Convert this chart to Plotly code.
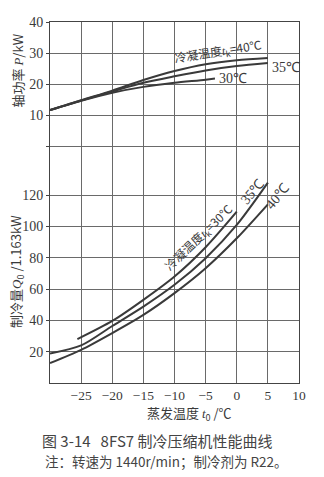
import plotly.graph_objects as go

# Evaporating temperature t0 (°C)
t0_full = [-30, -25, -20, -15, -10, -5, 0, 5]

# Shaft power P (kW) for condensing temperatures 40/35/30 °C
p_40 = [11.6, 14.8, 17.9, 21.3, 24.2, 26.4, 27.7, 28.4]
p_35 = [11.6, 14.7, 17.6, 20.4, 22.5, 24.4, 25.8, 26.8]
t0_p30 = [-30, -25, -20, -15, -10, -5, -3.5]
p_30 = [11.6, 14.6, 17.2, 19.1, 20.4, 21.4, 21.8]

# Cooling capacity Q0 (x1.163 kW)
t0_q30 = [-25.6, -20, -15, -10, -5, 0]
q_30 = [28.0, 39.6, 53.1, 68.0, 86.7, 109.4]
q_35 = [18.8, 24.0, 36.4, 48.8, 62.7, 79.7, 100.9, 127.9]
q_40 = [12.7, 21.2, 31.9, 43.5, 57.4, 73.3, 92.4, 114.1]

x_ticks = [-25, -20, -15, -10, -5, 0, 5, 10]
x_tick_text = ["−25", "−20", "−15", "−10", "−5", "0", "5", "10"]
q_ticks = [20, 40, 60, 80, 100, 120]
p_ticks = [0, 10, 20, 30, 40]
p_tick_text = ["", "10", "20", "30", "40"]

LINE = "#3a3a3a"
GRID = "#6a6a6a"
TXT = "#3a3a3a"
SERIF = "Liberation Serif"
CJK = "Noto Sans CJK SC"
ITAL = "<i><span style=\"font-family:'Liberation Serif',serif\">{}</span></i>"

fig = go.Figure()

curve = dict(mode="lines", line=dict(color=LINE, width=2, shape="spline", smoothing=0.8),
             showlegend=False, hoverinfo="skip")

fig.add_trace(go.Scatter(x=t0_full, y=p_40, yaxis="y2", **curve))
fig.add_trace(go.Scatter(x=t0_full, y=p_35, yaxis="y2", **curve))
fig.add_trace(go.Scatter(x=t0_p30, y=p_30, yaxis="y2", **curve))

fig.add_trace(go.Scatter(x=t0_q30, y=q_30, **curve))
fig.add_trace(go.Scatter(x=t0_full, y=q_35, **curve))
fig.add_trace(go.Scatter(x=t0_full, y=q_40, **curve))

axis_common = dict(showline=True, linecolor="#444", linewidth=1, mirror=True,
                   showgrid=True, gridcolor=GRID, gridwidth=1, zeroline=False,
                   ticks="outside", ticklen=3, tickcolor="#444",
                   tickfont=dict(family=SERIF, size=14, color=TXT))

fig.update_layout(
    width=324, height=477,
    margin=dict(l=50, r=25, t=22, b=94),
    paper_bgcolor="white", plot_bgcolor="white",
    font=dict(family=SERIF, color=TXT),
    xaxis=dict(range=[-30, 10], tickvals=x_ticks, ticktext=x_tick_text,
               **{**axis_common, "ticks": "", "tickfont": dict(family=SERIF, size=13.5, color=TXT)}),
    yaxis=dict(range=[0, 230.5], tickvals=q_ticks, **axis_common),
    yaxis2=dict(range=[-76.3, 40], tickvals=p_ticks, ticktext=p_tick_text,
                overlaying="y", side="left", **axis_common),
)

ann = []
# Power curve labels
ann.append(dict(x=-3.0, y=30.4, yref="y2",
                text="冷凝温度" + ITAL.format("t") + "<sub>k</sub>=40℃",
                textangle=-9, showarrow=False,
                font=dict(family=CJK, size=12, color=TXT)))
ann.append(dict(x=5.3, y=25.5, yref="y2", text="35℃", xanchor="left", showarrow=False,
                font=dict(family=SERIF, size=14, color=TXT)))
ann.append(dict(x=-3.2, y=21.9, yref="y2", text="30℃", xanchor="left", showarrow=False,
                font=dict(family=SERIF, size=14, color=TXT)))
# Capacity curve labels
ann.append(dict(x=-6.1, y=92.6, yref="y",
                text="冷凝温度" + ITAL.format("t") + "<sub>k</sub>=30℃",
                textangle=-44, showarrow=False,
                font=dict(family=CJK, size=12, color=TXT)))
ann.append(dict(x=2.6, y=122.0, yref="y", text="35℃", textangle=-50, showarrow=False,
                font=dict(family=SERIF, size=14, color=TXT)))
ann.append(dict(x=6.6, y=118.8, yref="y", text="40℃", textangle=-50, showarrow=False,
                font=dict(family=SERIF, size=14, color=TXT)))

# Axis titles
ann.append(dict(xref="x domain", yref="y domain", x=-0.132, y=0.866, xanchor="center",
                yanchor="middle",
                text="轴功率 " + ITAL.format("P") + "/kW",
                textangle=-90, showarrow=False, font=dict(family=CJK, size=13, color=TXT)))
ann.append(dict(xref="x domain", yref="y domain", x=-0.132, y=0.308, xanchor="center",
                yanchor="middle",
                text="制冷量" + ITAL.format("Q") + "<sub>0</sub> /1.163kW",
                textangle=-90, showarrow=False, font=dict(family=CJK, size=13, color=TXT)))
ann.append(dict(xref="x domain", yref="y domain", x=0.56, y=-0.084, yanchor="middle",
                text="蒸发温度 " + ITAL.format("t") + "<sub>0</sub> /℃",
                showarrow=False, font=dict(family=CJK, size=13, color=TXT)))
# Caption and note
ann.append(dict(xref="x domain", yref="y domain", x=0.43, y=-0.158, yanchor="middle",
                text="图 3-14   8FS7 制冷压缩机性能曲线",
                showarrow=False, font=dict(family=CJK, size=15, color="#444")))
ann.append(dict(xref="x domain", yref="y domain", x=0.466, y=-0.216, yanchor="middle",
                text="注：转速为 1440r/min；制冷剂为 R22。",
                showarrow=False, font=dict(family=CJK, size=13.5, color="#444")))

fig.update_layout(annotations=ann)
fig.write_html("out.html")
